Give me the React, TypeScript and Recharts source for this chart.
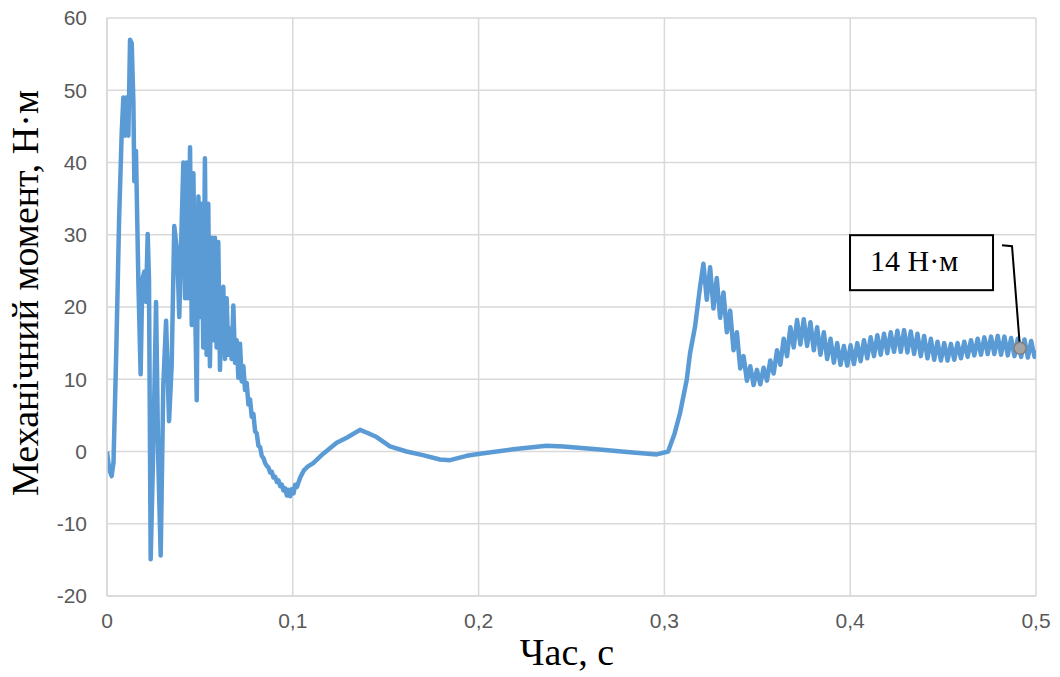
import React from "react";
import {
  LineChart,
  Line,
  XAxis,
  YAxis,
  CartesianGrid,
  ReferenceDot,
} from "recharts";

// [time, torque] pairs
const startTransient: [number, number][] = [
  [0, 0], [0.0012, -2.5], [0.0025, -3.4], [0.0035, -1.5], [0.005, 14],
  [0.0065, 32], [0.0079, 44], [0.0088, 49], [0.0097, 43.7], [0.0106, 49],
  [0.0115, 43.7], [0.0124, 57], [0.0133, 56.5], [0.0142, 48.4], [0.0147, 37.4],
  [0.0156, 41.6], [0.0169, 23.3], [0.0181, 10.7], [0.019, 23.8], [0.0201, 24.9],
  [0.021, 20.7], [0.0219, 30.1], [0.0226, 23.8], [0.0235, -14.9], [0.025, 1.3],
  [0.0264, 20.7], [0.0276, -1.3], [0.0289, -14.4], [0.0303, 9.2], [0.0318, 18.1],
  [0.0334, 4.2], [0.0348, 11.8], [0.0362, 31.2], [0.0378, 27.5], [0.0389, 18.6],
  [0.0398, 28], [0.0411, 40], [0.042, 21.2], [0.0429, 40], [0.0438, 21.2],
  [0.0447, 42.1], [0.0456, 17.5], [0.0465, 38.5], [0.0474, 20.7], [0.0483, 7.1],
  [0.0492, 35.3], [0.0501, 18.6], [0.051, 34.3], [0.0518, 14.4], [0.0527, 40.6],
  [0.0536, 13.4], [0.0545, 34.3], [0.0554, 11.8], [0.0563, 29.6], [0.0572, 15.4],
  [0.0581, 29.6], [0.059, 14.4], [0.0599, 29], [0.0608, 11.3], [0.0617, 21.2],
  [0.0626, 22.8], [0.0635, 12.8], [0.0644, 21.2], [0.0653, 13.4], [0.0662, 17],
  [0.0671, 12.8], [0.068, 20.2], [0.0689, 12.3], [0.0698, 15.4], [0.0707, 10.2],
  [0.0716, 14.9], [0.0725, 9.7], [0.0734, 11.8], [0.0743, 8.5], [0.0752, 9.5],
  [0.0761, 6.5], [0.077, 7.2], [0.0779, 4.8], [0.0788, 5.2], [0.0797, 2.8],
  [0.0806, 2.5], [0.0815, 0.8], [0.0824, 0.6], [0.0833, -0.6], [0.0842, -0.9],
  [0.0851, -1.6], [0.086, -2], [0.0869, -2.2], [0.0878, -2.9], [0.0887, -2.8],
  [0.0896, -3.6], [0.0905, -3.5], [0.0914, -4.2], [0.0923, -4], [0.0932, -4.8],
  [0.0941, -4.6], [0.095, -5.4], [0.0959, -5.1], [0.0968, -6.1], [0.0977, -5.3],
  [0.0986, -6.2], [0.0995, -5.2], [0.1004, -5.8], [0.1013, -4.6], [0.1022, -4.9],
];

const idleRun: [number, number][] = [
  [0.104, -3.6], [0.106, -2.6], [0.108, -2.1], [0.111, -1.6], [0.1164, -0.3],
  [0.1236, 1.2], [0.129, 1.9], [0.1362, 3.0], [0.14, 2.6], [0.1451, 2.0],
  [0.1523, 0.7], [0.1612, 0], [0.17, -0.5], [0.1792, -1.1], [0.1846, -1.2],
  [0.1936, -0.6], [0.2007, -0.3], [0.2186, 0.3], [0.2366, 0.8], [0.2456, 0.7],
  [0.2636, 0.3], [0.2815, -0.1], [0.2959, -0.4], [0.302, 0],
];

const loadStep: [number, number][] = [
  [0.3055, 2.5], [0.3084, 5.3], [0.312, 9.9], [0.3138, 13.6], [0.3165, 17.3],
  [0.3192, 22.8], [0.321, 26.0], [0.3228, 21.0], [0.3246, 25.5], [0.3264, 19.8],
  [0.3282, 24.0], [0.33, 18.5], [0.3318, 22.0], [0.3336, 16.5], [0.3354, 19.5],
  [0.3372, 14.0], [0.339, 16.5], [0.3408, 11.5], [0.3426, 13.2], [0.3444, 9.8],
  [0.3462, 11.8], [0.348, 9.2], [0.3498, 11.3], [0.3516, 9.3], [0.3534, 11.6],
  [0.3552, 9.8], [0.357, 12.6], [0.3588, 10.8], [0.3606, 14.0], [0.3624, 12.0],
  [0.3642, 15.6], [0.366, 13.2], [0.3678, 17.2], [0.3696, 14.4], [0.3714, 18.2],
  [0.3732, 14.8], [0.375, 18.3], [0.3768, 14.6], [0.3786, 17.9], [0.3804, 14.0],
  [0.3822, 17.2], [0.384, 13.4], [0.3858, 16.5], [0.3876, 12.8], [0.3894, 15.6],
  [0.3912, 12.3], [0.393, 15.0], [0.3948, 12.0], [0.3966, 14.6], [0.3984, 11.9],
  [0.4002, 14.7], [0.402, 12.1], [0.4038, 15.0], [0.4056, 12.5], [0.4074, 15.4],
  [0.4092, 12.9], [0.411, 15.8], [0.4128, 13.2], [0.4146, 16.1], [0.4164, 13.4],
  [0.4182, 16.3], [0.42, 13.6], [0.4218, 16.5], [0.4236, 13.8], [0.4254, 16.7],
  [0.4272, 13.8], [0.429, 16.8], [0.4308, 13.7], [0.4326, 16.6], [0.4344, 13.5],
  [0.4362, 16.3], [0.438, 13.2], [0.4398, 16.0], [0.4416, 12.9], [0.4434, 15.6],
  [0.4452, 12.7], [0.447, 15.2], [0.4488, 12.6], [0.4506, 15.0], [0.4524, 12.6],
  [0.4542, 14.9], [0.456, 12.7], [0.4578, 15.0], [0.4596, 12.9], [0.4614, 15.2],
  [0.4632, 13.1], [0.465, 15.4], [0.4668, 13.3], [0.4686, 15.6], [0.4704, 13.4],
  [0.4722, 15.8], [0.474, 13.5], [0.4758, 15.9], [0.4776, 13.5], [0.4794, 16.0],
  [0.4812, 13.4], [0.483, 15.9], [0.4848, 13.3], [0.4866, 15.7], [0.4884, 13.2],
  [0.4902, 15.6], [0.492, 13.1], [0.4938, 15.5], [0.4956, 13.0], [0.4974, 15.3],
  [0.4992, 13.1], [0.5, 14.0],
];

const xTicks = [0, 0.1, 0.2, 0.3, 0.4, 0.5];
const yTicks = [-20, -10, 0, 10, 20, 30, 40, 50, 60];
const marker = { t: 0.4914, v: 14.3, label: "14 Н·м" };

const data = [...startTransient, ...idleRun, ...loadStep].map(([t, v]) => ({ t, v }));

const tickStyle = { fill: "#595959", fontSize: 21, fontFamily: "Liberation Sans" };
const serif = "Liberation Serif, Times New Roman, serif";

const Callout = (props: any) => {
  const { cx, cy } = props;
  if (cx == null || cy == null) return null;
  return (
    <g>
      <polyline
        points={`${cx - 18},${cy - 103} ${cx - 8},${cy - 102} ${cx},${cy}`}
        fill="none"
        stroke="#000"
        strokeWidth={2}
      />
      <rect x={cx - 170} y={cy - 113} width={143} height={55} fill="#fff" stroke="#000" strokeWidth={2} />
      <text x={cx - 150} y={cy - 77} fontFamily={serif} fontSize={30} fill="#000">
        {marker.label}
      </text>
      <circle cx={cx} cy={cy} r={6} fill="#a5a5a5" stroke="#7f7f7f" strokeWidth={1.5} />
    </g>
  );
};

export default function App() {
  return (
    <div style={{ position: "absolute", left: 0, top: 0, width: 1060, height: 677, background: "#fff" }}>
      <LineChart width={1060} height={677} data={data} margin={{ top: 18, right: 24, left: 0, bottom: 0 }}>
        <CartesianGrid stroke="#d9d9d9" strokeWidth={1.5} vertical horizontal />
        <XAxis
          dataKey="t"
          type="number"
          domain={[0, 0.5]}
          ticks={xTicks}
          height={81}
          tickSize={0}
          tickMargin={17}
          axisLine={{ stroke: "#d9d9d9", strokeWidth: 1.5 }}
          tick={tickStyle}
          tickFormatter={(v: number) => String(v).replace(".", ",")}
          allowDataOverflow
        />
        <YAxis
          type="number"
          domain={[-20, 60]}
          ticks={yTicks}
          width={107}
          tickSize={0}
          tickMargin={20}
          axisLine={{ stroke: "#d9d9d9", strokeWidth: 1.5 }}
          tick={tickStyle}
          allowDataOverflow
        />
        <Line
          type="linear"
          dataKey="v"
          stroke="#5B9BD5"
          strokeWidth={4.5}
          strokeLinejoin="round"
          dot={false}
          isAnimationActive={false}
        />
        <ReferenceDot x={marker.t} y={marker.v} r={6} shape={<Callout />} />
        <text x={567} y={665} textAnchor="middle" fontFamily={serif} fontSize={38} fill="#000">
          Час, с
        </text>
        <text
          transform="translate(38,293) rotate(-90)"
          textAnchor="middle"
          fontFamily={serif}
          fontSize={38}
          fill="#000"
        >
          Механічний момент, Н·м
        </text>
      </LineChart>
    </div>
  );
}
